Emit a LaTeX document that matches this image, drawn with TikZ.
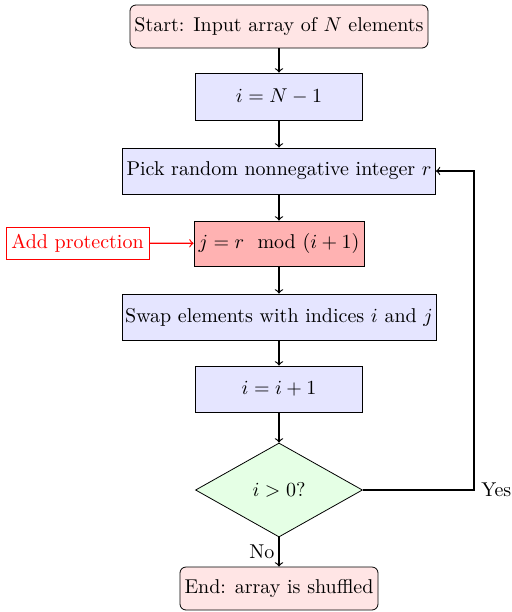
\documentclass[tikz,border=0pt]{standalone}
\usepackage{amsmath}
\usetikzlibrary{shapes.geometric,arrows}
\tikzset{
  proc/.style={draw, fill=blue!10, minimum height=23pt, inner ysep=3.33pt, inner xsep=1.6pt},
  term/.style={draw, rounded corners=3pt, fill=red!10, minimum height=21.5pt, inner ysep=3.33pt, inner xsep=1.8pt},
  decis/.style={draw, diamond, fill=green!10, aspect=1.78, minimum width=83.5pt, minimum height=47pt, inner sep=1pt},
  conn/.style={->, semithick},
}
\begin{document}
\begin{tikzpicture}[x=1pt,y=1pt]
\useasboundingbox (0,0) rectangle (255.5,-306);
\node[term, minimum width=149pt] (start) at (139.5,-13.25) {Start: Input array of $N$ elements};
\node[proc, minimum width=83.5pt, minimum height=23.5pt] (init) at (139.5,-48.25) {$i = N-1$};
\node[proc, minimum width=156.5pt] (pick) at (139.5,-85.5) {Pick random nonnegative integer $r$};
\node[proc, fill=red!30, minimum width=85pt, minimum height=22.5pt] (mod) at (139.5,-121.75) {$j = r \mod{(i+1)}$};
\node[draw=red, text=red, fill=white, minimum width=71.5pt, minimum height=16pt, inner sep=2pt] (prot) at (38.75,-121.5) {Add protection};
\node[proc, minimum width=156.5pt] (swap) at (139.5,-158.5) {Swap elements with indices $i$ and $j$};
\node[proc, minimum width=83.5pt] (inc) at (139.5,-194.5) {$i = i+1$};
\node[decis] (dec) at (139.5,-245) {$i > 0$?};
\node[term, minimum width=99pt] (end) at (139.5,-294.25) {End: array is shuffled};
\coordinate (corner) at (237,-245);
\draw[conn] (start) -- (init);
\draw[conn] (init) -- (pick);
\draw[conn] (pick) -- (mod);
\draw[conn, red] (prot) -- (mod);
\draw[conn] (mod) -- (swap);
\draw[conn] (swap) -- (inc);
\draw[conn] (inc) -- (dec);
\draw[conn] (dec) -- node[left, inner sep=2pt] (no) {No} (end);
\draw[conn] (dec.east) -- (corner) node[right] (yes) {Yes} |- (pick.east);
\end{tikzpicture}
\end{document}
